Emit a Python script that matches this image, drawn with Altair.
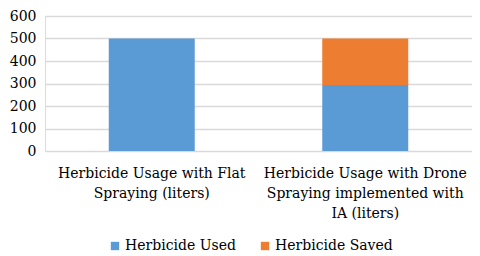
import altair as alt
import pandas as pd

categories = [
    "Herbicide Usage with Flat|Spraying (liters)",
    "Herbicide Usage with Drone|Spraying implemented with|IA (liters)",
]
series = ["Herbicide Used", "Herbicide Saved"]
used = [500, 293]
saved = [0, 207]
colors = ["#5B9BD5", "#ED7D31"]

rows = []
for i, c in enumerate(categories):
    rows.append({"cat": c, "series": series[0], "value": used[i], "ord": 0})
    rows.append({"cat": c, "series": series[1], "value": saved[i], "ord": 1})
df = pd.DataFrame(rows)

font = "DejaVu Serif"

chart = alt.Chart(df).mark_bar(size=86).encode(
    x=alt.X("cat:N", sort=categories, title=None,
            scale=alt.Scale(paddingInner=0.0, paddingOuter=0.0),
            axis=alt.Axis(labelAngle=0, labelExpr="split(datum.label, '|')",
                          labelFontSize=14, labelLineHeight=20, labelPadding=15,
                          labelColor="#000000", labelFont=font,
                          domain=False, ticks=False, labelLimit=0)),
    y=alt.Y("value:Q", stack="zero", title=None,
            scale=alt.Scale(domain=[0, 600]),
            axis=alt.Axis(values=[0, 100, 200, 300, 400, 500, 600],
                          labelFontSize=14, labelColor="#000000", labelFont=font,
                          labelPadding=9, domain=False, ticks=False,
                          gridColor="#D9D9D9", gridWidth=1.5)),
    color=alt.Color("series:N", sort=series,
                    scale=alt.Scale(domain=series, range=colors),
                    legend=alt.Legend(title=None, orient="none", direction="horizontal",
                                      legendX=63, legendY=223,
                                      symbolType="square", symbolSize=70,
                                      symbolStrokeWidth=0,
                                      labelFontSize=14, labelFont=font,
                                      labelColor="#000000", labelOffset=3,
                                      columnPadding=22)),
    order=alt.Order("ord:Q", sort="ascending"),
).properties(
    width=427, height=135,
    autosize=alt.AutoSizeParams(type="none"),
    padding={"left": 37, "top": 8, "right": 0, "bottom": 103},
).configure_view(stroke=None).configure(background="white", font=font)

chart.save("out.html", embed_options={"renderer": "svg", "actions": False})
